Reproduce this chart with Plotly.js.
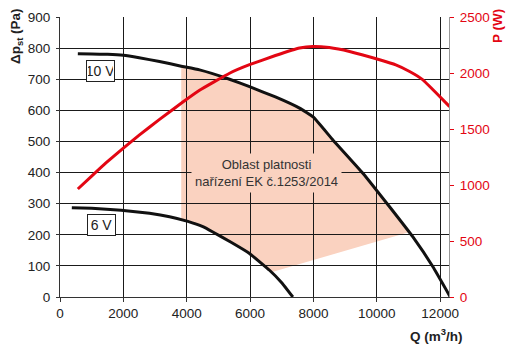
<!DOCTYPE html>
<html>
<head>
<meta charset="utf-8">
<script src="https://cdn.plot.ly/plotly-3.0.1.min.js"></script>
<style>html,body{margin:0;padding:0;background:#fff;}#chart{width:507px;height:345px;}</style>
</head>
<body>
<div id="chart"></div>
<script>
// Pressure curve at 10 V (Q in m3/h, dp in Pa)
const q10 = [563, 1000, 1500, 2000, 2500, 3142, 3827, 4405, 5352, 5983, 6800, 7562, 8000, 8614, 9561, 10404, 11140, 11772, 12320];
const dp10 = [782, 781, 780, 777, 769, 757, 742, 730, 700, 676, 643, 607, 578, 505, 398, 290, 193, 97, 0];
// Pressure curve at 6 V
const q6 = [373, 1000, 1932, 2826, 3458, 4036, 4510, 4825, 5400, 5983, 6615, 7000, 7351];
const dp6 = [287, 285, 279, 269, 258, 243, 226, 209, 176, 140, 86, 46, 0];
// Power input (W, right axis)
const qP = [563, 1000, 1459, 2000, 2500, 3142, 3878, 4405, 5352, 5983, 6800, 7562, 7982, 8500, 9140, 10088, 10600, 11036, 11457, 11900, 12300];
const pW = [964, 1080, 1200, 1330, 1445, 1586, 1741, 1846, 1998, 2074, 2156, 2223, 2237, 2227, 2192, 2118, 2072, 2013, 1939, 1815, 1700];
// Validity region of regulation EK 1253/2014 (polygon vertices)
const shadeQ = [3827, 4405, 5352, 5983, 6800, 7562, 8000, 8614, 9561, 10404, 11036, 6700, 5983, 5400, 4825, 4510, 4036, 3827];
const shadeDp = [742, 730, 700, 676, 643, 607, 578, 505, 398, 290, 209, 80, 140, 176, 209, 226, 243, 250];
// Axis ticks
const xTicks = [0, 2000, 4000, 6000, 8000, 10000, 12000];
const yTicks = [0, 100, 200, 300, 400, 500, 600, 700, 800, 900];
const y2Ticks = [0, 500, 1000, 1500, 2000, 2500];
// Text labels
const curveLabels = ["10 V", "6 V"];
const labelQ = [1290, 1295];
const labelDp = [726, 232];
const regionText = "Oblast platnosti<br>nařízení EK č.1253/2014";
const regionQ = 6505, regionDp = 400;

const RED = 'rgb(227,6,19)';
const SALMON = 'rgb(250,210,192)';
const FONT = 'Liberation Sans, Arial, sans-serif';

let path = '';
shadeQ.forEach((q, i) => { path += (i === 0 ? 'M' : 'L') + q + ',' + shadeDp[i] + ' '; });
path += 'Z';

const traces = [
  {x: q10, y: dp10, mode: 'lines', line: {color: '#111', width: 3, shape: 'spline', smoothing: 0.3}, xaxis: 'x', yaxis: 'y', hoverinfo: 'skip'},
  {x: q6, y: dp6, mode: 'lines', line: {color: '#111', width: 3, shape: 'spline', smoothing: 0.3}, xaxis: 'x', yaxis: 'y', hoverinfo: 'skip'},
  {x: qP, y: pW, mode: 'lines', line: {color: RED, width: 3, shape: 'spline', smoothing: 0.3}, xaxis: 'x', yaxis: 'y2', hoverinfo: 'skip'}
];

const annotations = curveLabels.map((t, i) => ({
  x: labelQ[i], y: labelDp[i], xref: 'x', yref: 'y', text: t, showarrow: false,
  font: {family: FONT, size: 14, color: '#222'}, bgcolor: '#fff', bordercolor: '#222', borderwidth: 1,
  borderpad: 1, width: 25, height: 18
}));
annotations.push({
  x: regionQ, y: regionDp, xref: 'x', yref: 'y', text: regionText, showarrow: false,
  font: {family: FONT, size: 13, color: '#333'}, bgcolor: SALMON, borderpad: 3
});
// Axis titles
annotations.push({
  xref: 'paper', yref: 'paper', x: -43 / 389, y: 1 - 19 / 280, xanchor: 'center', yanchor: 'middle',
  text: '<b>Δp<sub>st</sub> (Pa)</b>', textangle: -90, showarrow: false, font: {family: FONT, size: 13.5, color: '#222'}
});
annotations.push({
  xref: 'paper', yref: 'paper', x: (497 - 60) / 389, y: 1 + (17 - 26) / 280, xanchor: 'center', yanchor: 'middle',
  text: '<b>P (W)</b>', textangle: -90, showarrow: false, font: {family: FONT, size: 13.5, color: RED}
});
annotations.push({
  xref: 'paper', yref: 'paper', x: (436 - 60) / 389, y: -(335 - 297) / 280, xanchor: 'center', yanchor: 'middle',
  text: '<b>Q (m<sup>3</sup>/h)</b>', showarrow: false, font: {family: FONT, size: 13.5, color: '#222'}
});

const layout = {
  width: 507, height: 345,
  margin: {l: 60, r: 58, t: 17, b: 48},
  paper_bgcolor: '#fff', plot_bgcolor: '#fff',
  showlegend: false,
  font: {family: FONT, size: 13.5, color: '#222'},
  xaxis: {
    range: [0, 12280], tickvals: xTicks, ticktext: xTicks.map(String),
    showgrid: true, gridcolor: '#1a1a1a', gridwidth: 1, zeroline: false,
    showline: true, linecolor: '#333', linewidth: 1,
    ticks: 'outside', ticklen: 4, tickcolor: '#333', tickfont: {family: FONT, size: 13.5, color: '#222'}
  },
  yaxis: {
    range: [0, 900], tickvals: yTicks, ticktext: yTicks.map(String),
    showgrid: true, gridcolor: '#1a1a1a', gridwidth: 1, zeroline: false,
    showline: true, linecolor: '#333', linewidth: 1,
    ticks: 'outside', ticklen: 3, tickcolor: '#333', ticklabelstandoff: 3,
    tickfont: {family: FONT, size: 13.5, color: '#222'}
  },
  yaxis2: {
    range: [0, 2500], tickvals: y2Ticks, ticktext: y2Ticks.map(String), overlaying: 'y', side: 'right',
    showgrid: false, zeroline: false, showline: true, linecolor: '#999', linewidth: 1,
    ticks: 'outside', ticklen: 4, tickcolor: RED, ticklabelstandoff: 3,
    tickfont: {family: FONT, size: 13.5, color: RED}
  },
  shapes: [{type: 'path', xref: 'x', yref: 'y', path: path, fillcolor: SALMON, line: {width: 0}, layer: 'below'}],
  annotations: annotations
};

Plotly.newPlot('chart', traces, layout, {staticPlot: true, displayModeBar: false});
</script>
</body>
</html>
